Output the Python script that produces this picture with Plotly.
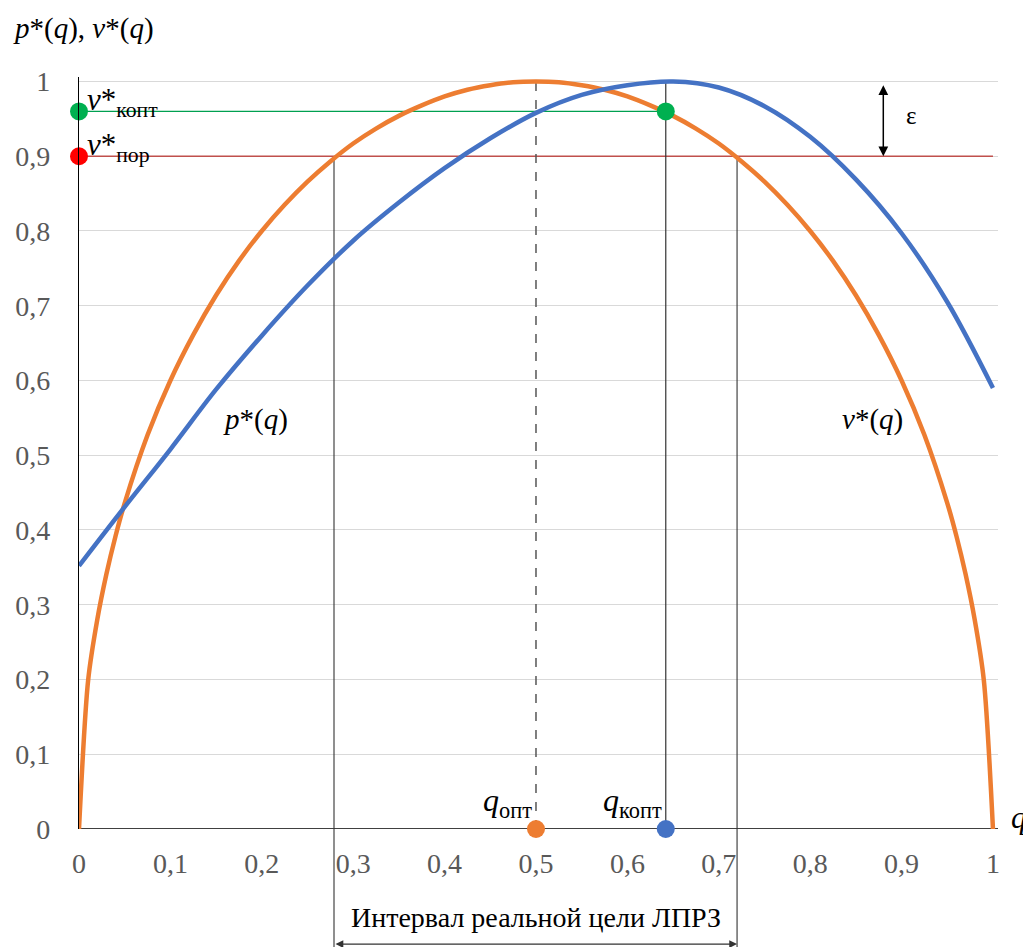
import plotly.graph_objects as go

# ---------------- data ----------------
q_p = [0, 0.01, 0.02, 0.03, 0.04, 0.05, 0.075, 0.1, 0.125, 0.15, 0.175, 0.2, 0.225, 0.25, 0.275, 0.3, 0.325, 0.35,
       0.375, 0.4, 0.425, 0.45, 0.475, 0.5, 0.525, 0.55, 0.575, 0.6, 0.625, 0.65, 0.675, 0.7, 0.725, 0.75, 0.775,
       0.8, 0.825, 0.85, 0.875, 0.9, 0.925, 0.95, 0.96, 0.97, 0.98, 0.99, 1]
p_star = [0, 0.199, 0.28, 0.341, 0.392, 0.436, 0.527, 0.6, 0.661, 0.714, 0.76, 0.8, 0.835, 0.866, 0.893, 0.917,
          0.937, 0.954, 0.968, 0.98, 0.989, 0.995, 0.999, 1.0, 0.999, 0.995, 0.989, 0.98, 0.968, 0.954, 0.937,
          0.917, 0.893, 0.866, 0.835, 0.8, 0.76, 0.714, 0.661, 0.6, 0.527, 0.436, 0.392, 0.341, 0.28, 0.199, 0]

q_v = [0, 0.05, 0.1, 0.15, 0.2, 0.25, 0.3, 0.35, 0.4, 0.45, 0.5, 0.55, 0.6, 0.65, 0.7, 0.75, 0.8, 0.85, 0.9, 0.95, 1]
v_star = [0.352, 0.431, 0.508, 0.588, 0.660, 0.727, 0.787, 0.838, 0.884, 0.924, 0.958, 0.982, 0.995, 1.0, 0.992,
          0.967, 0.926, 0.869, 0.797, 0.705, 0.59]

q_opt = 0.5
q_kopt = 0.642
v_kopt = 0.96
v_por = 0.9
interval_q = [0.279, 0.72]
eps_x = 0.88

y_ticks = [0, 0.1, 0.2, 0.3, 0.4, 0.5, 0.6, 0.7, 0.8, 0.9, 1]
y_labels = ["0", "0,1", "0,2", "0,3", "0,4", "0,5", "0,6", "0,7", "0,8", "0,9", "1"]
x_ticks = [0, 0.1, 0.2, 0.3, 0.4, 0.5, 0.6, 0.7, 0.8, 0.9, 1]
x_labels = ["0", "0,1", "0,2", "0,3", "0,4", "0,5", "0,6", "0,7", "0,8", "0,9", "1"]

ORANGE = "#ED7D31"
BLUE = "#4472C4"
GREEN = "#00B050"
RED = "#FF0000"
FONT = "Liberation Serif"

fig = go.Figure()

fig.add_trace(go.Scatter(x=q_p, y=p_star, mode="lines", line=dict(color=ORANGE, width=4.5, shape="spline", smoothing=0.8),
                         hoverinfo="skip", showlegend=False))
fig.add_trace(go.Scatter(x=q_v, y=v_star, mode="lines", line=dict(color=BLUE, width=4.5, shape="spline", smoothing=1),
                         hoverinfo="skip", showlegend=False))

fig.add_trace(go.Scatter(x=[0, q_kopt], y=[v_kopt, v_kopt], mode="markers", marker=dict(color=GREEN, size=18),
                         cliponaxis=False, showlegend=False, hoverinfo="skip"))
fig.add_trace(go.Scatter(x=[0], y=[v_por], mode="markers", marker=dict(color=RED, size=18),
                         cliponaxis=False, showlegend=False, hoverinfo="skip"))
fig.add_trace(go.Scatter(x=[q_opt], y=[0], mode="markers", marker=dict(color=ORANGE, size=18),
                         cliponaxis=False, showlegend=False, hoverinfo="skip"))
fig.add_trace(go.Scatter(x=[q_kopt], y=[0], mode="markers", marker=dict(color=BLUE, size=18),
                         cliponaxis=False, showlegend=False, hoverinfo="skip"))

shapes = []
shapes.append(dict(type="line", xref="x", yref="y", x0=0, x1=q_kopt, y0=v_kopt, y1=v_kopt,
                   line=dict(color="#00A050", width=1.2), layer="between"))
shapes.append(dict(type="line", xref="x", yref="y", x0=0, x1=1, y0=v_por, y1=v_por,
                   line=dict(color="#C0504D", width=1.3), layer="between"))
shapes.append(dict(type="line", xref="x", yref="y", x0=q_opt, x1=q_opt, y0=0, y1=1,
                   line=dict(color="#555555", width=1.5, dash="dash"), layer="between"))
shapes.append(dict(type="line", xref="x", yref="y", x0=q_kopt, x1=q_kopt, y0=0, y1=1,
                   line=dict(color="#333333", width=1.2), layer="between"))
for qv in interval_q:
    shapes.append(dict(type="line", xref="x", yref="y", x0=qv, x1=qv, y0=0, y1=v_por,
                       line=dict(color="#333333", width=1.1), layer="between"))
    shapes.append(dict(type="line", xref="x", yref="paper", x0=qv, x1=qv, y0=0, y1=-0.2,
                       line=dict(color="#333333", width=1.1)))
shapes.append(dict(type="line", xref="paper", yref="y", x0=0, x1=1, y0=0, y1=0,
                   line=dict(color="black", width=1.3), layer="between"))

annotations = []
def txt(text, x, y, xref="x", yref="y", size=26, xanchor="center", yanchor="middle", color="black", **kw):
    annotations.append(dict(text=text, x=x, y=y, xref=xref, yref=yref, showarrow=False,
                            font=dict(family=FONT, size=size, color=color),
                            xanchor=xanchor, yanchor=yanchor, **kw))

txt("<i>p</i>*(<i>q</i>), <i>v</i>*(<i>q</i>)", -0.074, 1.065, xref="paper", yref="paper", size=29, xanchor="left")
txt("<i>v</i>*<sub>копт</sub>", 0, v_kopt, xanchor="left", yanchor="bottom", xshift=6, yshift=-13, size=31)
txt("<i>v</i>*<sub>пор</sub>", 0, v_por, xanchor="left", yanchor="bottom", xshift=6, yshift=-13, size=31)
txt("<i>p</i>*(<i>q</i>)", 0.193, 0.548, size=29)
txt("<i>v</i>*(<i>q</i>)", 0.868, 0.548, size=29)
txt("<i>q</i><sub>опт</sub>", q_opt, 0.0, xanchor="right", yanchor="bottom", xshift=-2, yshift=4, size=32)
txt("<i>q</i><sub>копт</sub>", q_kopt, 0.0, xanchor="right", yanchor="bottom", xshift=-2, yshift=4, size=32)
txt("ε", 0.911, 0.955, size=25)
txt("<i>q</i>", 1.034, 0.0, xref="paper", xanchor="right", yshift=12, size=31)
txt("Интервал реальной цели ЛПРЗ", 0.5, -0.118, yref="paper", size=28)

annotations.append(dict(x=eps_x, y=v_por, ax=eps_x, ay=0.997, xref="x", yref="y", axref="x", ayref="y",
                        text="", showarrow=True, arrowhead=2, arrowside="end+start", arrowsize=1.3,
                        arrowwidth=1.5, arrowcolor="black"))
annotations.append(dict(x=interval_q[1], y=-0.153, ax=interval_q[0], ay=0, xref="x", yref="paper",
                        axref="x", ayref="pixel", text="", showarrow=True, arrowhead=2,
                        arrowside="end+start", arrowsize=1.3, arrowwidth=1.2, arrowcolor="#333333"))

fig.update_layout(
    width=1023, height=939,
    margin=dict(l=71, r=33, t=69, b=118, pad=0, autoexpand=False),
    paper_bgcolor="white", plot_bgcolor="white",
    font=dict(family=FONT),
    shapes=shapes, annotations=annotations,
    xaxis=dict(range=[0, 1.0055], tickvals=x_ticks, ticktext=x_labels, showgrid=False, zeroline=False,
               showline=False, ticks="", ticklabelstandoff=15, automargin=False,
               tickfont=dict(family=FONT, size=28, color="#595959"), fixedrange=True),
    yaxis=dict(range=[0, 1.006], tickvals=y_ticks, ticktext=y_labels, showgrid=True, gridcolor="#D9D9D9",
               gridwidth=1, zeroline=False, showline=True, linecolor="black", linewidth=1.3,
               ticks="", ticklabelstandoff=22, automargin=False,
               tickfont=dict(family=FONT, size=28, color="#595959"), fixedrange=True),
)

fig.write_html("out.html")
